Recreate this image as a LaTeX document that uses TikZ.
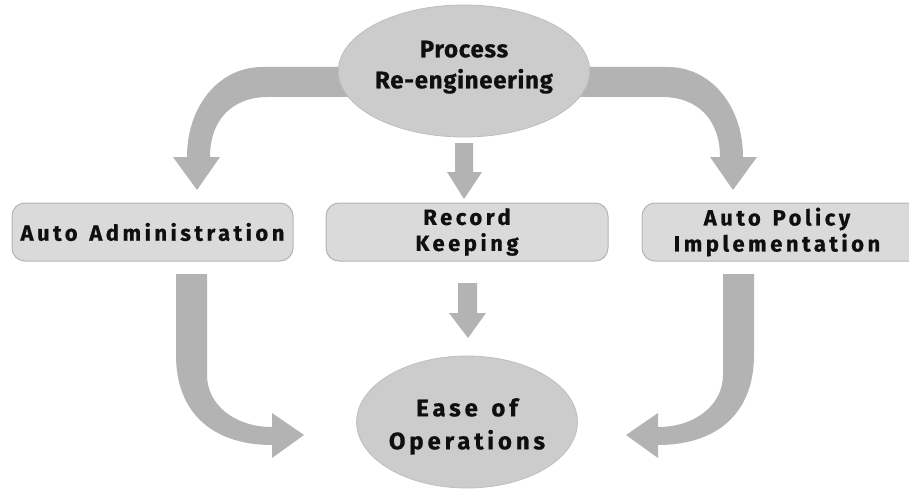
\documentclass[tikz,border=0pt]{standalone}
\usepackage{fontspec}
\setmainfont{Fira Sans}
\newfontfamily\boxfont[LetterSpace=16, BoldFeatures={FakeBold=0.6}]{Fira Sans}
\newfontfamily\ovalfont[LetterSpace=3, BoldFeatures={FakeBold=0.6}]{Fira Sans}
\usetikzlibrary{shapes.geometric}

\definecolor{arrowgray}{RGB}{179,179,179}
\definecolor{ovalgray}{RGB}{204,204,204}
\definecolor{ovaledge}{RGB}{190,190,190}
\definecolor{boxgray}{RGB}{218,218,218}
\definecolor{boxedge}{RGB}{180,180,180}
\definecolor{inkblack}{RGB}{15,15,15}

\tikzset{
  oval/.style={ellipse, fill=ovalgray, draw=ovaledge, line width=0.8pt,
    minimum width=198pt, minimum height=132pt, inner sep=0pt,
    align=center, text=inkblack},
  stagebox/.style={rectangle, rounded corners=13pt, fill=boxgray, draw=boxedge,
    line width=1pt, minimum height=58pt, inner sep=0pt, align=center, text=inkblack},
  stagetext/.style={font={\boxfont\bfseries\fontsize{22}{26}\selectfont}},
  fatarrow/.style={fill=arrowgray}
}

\begin{document}
\begin{tikzpicture}[x=1pt,y=-1pt]
\useasboundingbox (0,0) rectangle (909,492);
\clip (0,0) rectangle (909,492);

% curved arrows leaving the top oval
\fill[fatarrow] (350,67) -- (262,67) .. controls (220,67) and (187,105) .. (187,157)
  -- (173,157) -- (197,190) -- (220,157) -- (210,157)
  .. controls (210,120) and (232,97) .. (268,97) -- (350,97) -- cycle;
\fill[fatarrow] (580,67) -- (668,67) .. controls (710,67) and (743,105) .. (743,157)
  -- (757,157) -- (733,190) -- (710,157) -- (720,157)
  .. controls (720,120) and (698,97) .. (662,97) -- (580,97) -- cycle;

% straight arrows through the middle column
\fill[fatarrow] (455,143) -- (473,143) -- (473,172) -- (482,172) -- (464,199)
  -- (447,172) -- (455,172) -- cycle;
\fill[fatarrow] (458,283) -- (477,283) -- (477,313) -- (486,313) -- (468,338)
  -- (449,313) -- (458,313) -- cycle;

% curved arrows entering the bottom oval
\fill[fatarrow] (176,274) -- (176,355) .. controls (176,415) and (215,445) .. (272,445)
  -- (272,458) -- (304,435) -- (272,413) -- (272,427)
  .. controls (235,427) and (207,405) .. (207,375) -- (207,274) -- cycle;
\fill[fatarrow] (754,274) -- (754,355) .. controls (754,415) and (715,445) .. (658,445)
  -- (658,458) -- (626,435) -- (658,413) -- (658,427)
  .. controls (695,427) and (723,405) .. (723,375) -- (723,274) -- cycle;

% ovals (struts nudge the text block inside each oval)
\node[oval, font={\ovalfont\bfseries\fontsize{24}{31}\selectfont}]
  (reeng) at (464,71) {Process\\Re-engineering\rule[-13pt]{0pt}{0pt}};
\node[oval, font={\boxfont\bfseries\fontsize{24}{33}\selectfont}]
  (ease) at (467,422) {\rule{0pt}{27pt}Ease\hspace{4pt} of\\Operations};

% the three stages
\node[stagebox, stagetext, minimum width=281pt]
  (admin) at (152.5,232) {Auto\hspace{3pt} Administration};
\node[stagebox, stagetext, minimum width=282pt]
  (record) at (467,232) {Record\\Keeping};
\node[stagebox, minimum width=290pt] (policy) at (787,232) {};
\node[stagetext, align=center, text=inkblack]
  (policytext) at (777,232) {Auto\hspace{3pt} Policy\\Implementation};
\end{tikzpicture}
\end{document}
